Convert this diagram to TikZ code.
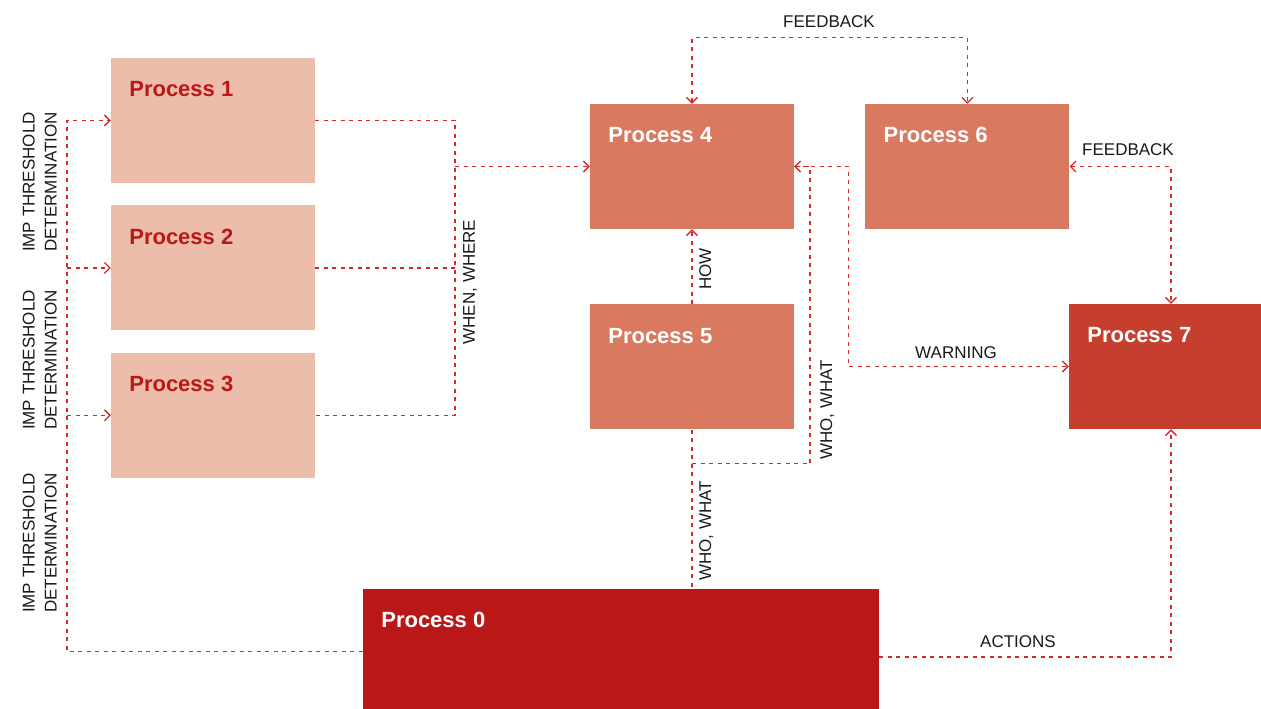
\documentclass[tikz,border=0pt]{standalone}
\usepackage{fontspec}
\setmainfont{Liberation Sans}
\usetikzlibrary{arrows.meta,positioning}
\definecolor{procpale}{HTML}{EBBDAA}
\definecolor{procmid}{HTML}{D97A60}
\definecolor{procwarm}{HTML}{C63F2E}
\definecolor{procdeep}{HTML}{BA1818}
\definecolor{linkred}{HTML}{D42A2A}
\begin{document}
\begin{tikzpicture}[x=1pt, y=1pt, >={Straight Barb[length=5.5pt,width=11pt]},
  proc/.style={fill=#1, minimum width=204pt, minimum height=125pt, inner sep=0pt},
  ptitle/.style={anchor=base west, font=\fontsize{22}{26}\selectfont\bfseries, text=#1},
  link/.style={draw=linkred, line width=1.3pt, dash pattern=on 4pt off 4.5pt},
  lbl/.style={font=\fontsize{17}{22}\selectfont, text=black!90, inner sep=2pt},
  vlbl/.style={lbl, rotate=90, anchor=north}]
  \useasboundingbox (0,0) rectangle (1261,709);
  % process boxes
  \node[proc=procpale] (p1) at (213,588.5) {};
  \node[proc=procpale, below=22pt of p1] (p2) {};
  \node[proc=procpale, below=22pt of p2] (p3) {};
  \node[proc=procmid] (p4) at (692,542.5) {};
  \node[proc=procmid, below=75pt of p4] (p5) {};
  \node[proc=procmid, right=71pt of p4] (p6) {};
  \node[proc=procwarm] (p7) at (1171,342.5) {};
  \node[proc=procdeep, minimum width=516pt] (p0) at (621,57.5) {};
  \foreach \n/\c in {1/procdeep,2/procdeep,3/procdeep,4/white,5/white,6/white,7/white,0/white}
    \node[ptitle=\c] (t\n) at ([shift={(15,-39)}]p\n.north west) {Process \n};
  % left bus back from process 0
  \coordinate (lbus) at (67,57.5);
  \draw[link,->] (p0.west) -- (lbus) |- (p1.west);
  \draw[link,->] (lbus |- p2.west) -- (p2.west);
  \draw[link,->] (lbus |- p3.west) -- (p3.west);
  \foreach \y [count=\i] in {527,349,166}
    \node[vlbl, anchor=south, align=center] (imp\i) at (59,\y) {IMP THRESHOLD\\DETERMINATION};
  % right bus into process 4
  \coordinate (rbus) at (455,0);
  \draw[link] (p1.east) -- (p1.east -| rbus) -- (p3.east -| rbus) -- (p3.east);
  \draw[link] (p2.east) -- (p2.east -| rbus);
  \draw[link,->] (p4.west -| rbus) -- (p4.west);
  \node[vlbl] (when) at (461,427) {WHEN, WHERE};
  % middle column
  \draw[link,->] (p5.north) -- (p4.south);
  \node[vlbl] (how) at (697,440) {HOW};
  \draw[link] (p5.south) -- (p5.south |- p0.north);
  \path (p5.south) ++(0,-34) coordinate (wj);
  \draw[link,->] (wj) -- ++(118,0) coordinate (wk) -- (wk |- p4.east) -- (p4.east);
  \node[vlbl] (who1) at (818,299) {WHO, WHAT};
  \node[vlbl] (who2) at (697,178) {WHO, WHAT};
  % right side
  \draw[link,->] (p4.east) -- ++(54,0) coordinate (wn) |- (p7.west);
  \node[lbl] (warn) at (956,356) {WARNING};
  \draw[link,<->] (p4.north) -- ++(0,66) -| (p6.north);
  \node[lbl] (fbtop) at (829,687) {FEEDBACK};
  \draw[link,<->] (p6.east) -| (p7.north);
  \node[lbl] (fbside) at (1128,559) {FEEDBACK};
  \draw[link,->] ([yshift=-5.5pt]p0.east) -| (p7.south);
  \node[lbl] (act) at (1018,67) {ACTIONS};
\end{tikzpicture}
\end{document}
